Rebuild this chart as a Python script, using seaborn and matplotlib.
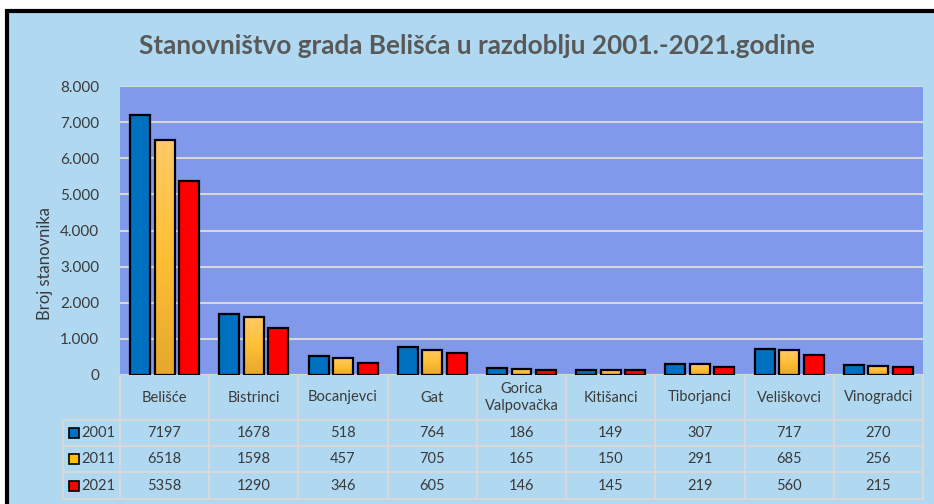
import matplotlib
matplotlib.use("Agg")
import matplotlib.pyplot as plt
import matplotlib.transforms as mtransforms
from matplotlib.patches import Rectangle
import numpy as np
import pandas as pd
import seaborn as sns

# Data
naselja = ["Belišće", "Bistrinci", "Bocanjevci", "Gat", "Gorica\nValpovačka",
           "Kitišanci", "Tiborjanci", "Veliškovci", "Vinogradci"]
godine = ["2001", "2011", "2021"]
stan_2001 = [7197, 1678, 518, 764, 186, 149, 307, 717, 270]
stan_2011 = [6518, 1598, 457, 705, 165, 150, 291, 685, 256]
stan_2021 = [5358, 1290, 346, 605, 146, 145, 219, 560, 215]
y_ticks = [0, 1000, 2000, 3000, 4000, 5000, 6000, 7000, 8000]

boje = ["#0070c0", "#ffc000", "#ff0000"]
bg_chart = "#b0d9f1"
bg_plot = "#8099ea"
txt = "#3a3a3a"
grid_c = "#d8d8d8"

df = pd.DataFrame({
    "naselje": naselja * 3,
    "godina": [g for g in godine for _ in naselja],
    "stanovnici": stan_2001 + stan_2011 + stan_2021,
})

sns.set_theme(style="white")
plt.rcParams["font.family"] = ["Lato", "DejaVu Sans"]

W, H = 934, 504
fig = plt.figure(figsize=(W / 100, H / 100), dpi=100)
fig.patch.set_facecolor("white")

# chart frame with black border on top/left
fig.patches.append(Rectangle((7 / W, -0.1), 1.2, (H - 11) / H + 0.1,
                             transform=fig.transFigure, facecolor=bg_chart,
                             edgecolor="black", linewidth=3, zorder=-5))

x0, x1, y_top, y_base = 120, 923, 86, 375
ax = fig.add_axes([x0 / W, (H - y_base) / H, (x1 - x0) / W, (y_base - y_top) / H])
ax.set_facecolor(bg_plot)

sns.barplot(data=df, x="naselje", y="stanovnici", hue="godina", palette=boje,
            saturation=1, width=0.825, ax=ax, legend=False, zorder=3)

bar_w = 0.224
for ci, cont in enumerate(ax.containers):
    for p in cont.patches:
        c = p.get_x() + p.get_width() / 2
        p.set_x(c - bar_w / 2)
        p.set_width(bar_w)
        p.set_edgecolor("black")
        p.set_linewidth(1.6)
        if ci == 1:
            # light-to-dark yellow gradient
            grad = np.linspace(0, 1, 256).reshape(-1, 1)
            cmap = matplotlib.colors.LinearSegmentedColormap.from_list(
                "y", ["#e6a72e", "#ffbf34", "#ffca66"])
            im = ax.imshow(grad, cmap=cmap, origin="lower", aspect="auto",
                           extent=[p.get_x(), p.get_x() + bar_w, 0, p.get_height()],
                           zorder=2.9)
            im.set_clip_path(p)
            p.set_facecolor("none")

ax.set_xlim(-0.5, len(naselja) - 0.5)
ax.set_ylim(0, 8000)
ax.set_yticks(y_ticks)
ax.set_yticklabels([f"{v:,}".replace(",", ".") for v in y_ticks],
                   fontsize=11, color=txt)
ax.yaxis.grid(True, color=grid_c, linewidth=1.5, zorder=0)
ax.set_axisbelow(True)
ax.set_xticks([])
ax.set_xlabel("")
ax.set_ylabel("")
ax.tick_params(axis="y", length=0, pad=15)
for s in ax.spines.values():
    s.set_visible(False)

fig.text(45 / W, (H - 263) / H, "Broj stanovnika", rotation=90, ha="center",
         va="center", fontsize=12, color=txt)
fig.text(477 / W, (H - 46) / H, "Stanovništvo grada Belišća u razdoblju 2001.-2021.godine",
         ha="center", va="center", fontsize=18.8, fontweight="bold", color="#595959")

# data table below the plot
tr = mtransforms.blended_transform_factory(ax.transData, fig.transFigure)
fy = lambda py: (H - py) / H
rows_y = [375, 420, 446, 472, 499]
n = len(naselja)
unit = (x1 - x0) / n
leg_x = -0.5 - 57 / unit
lk = dict(color=grid_c, linewidth=1.5, transform=tr, clip_on=False)
ax.plot([-0.5, n - 0.5], [fy(420), fy(420)], **lk)
for py in rows_y[1:]:
    ax.plot([leg_x, n - 0.5], [fy(py), fy(py)], **lk)
for i in range(n + 1):
    ax.plot([i - 0.5, i - 0.5], [fy(375), fy(499)], **lk)
ax.plot([leg_x, leg_x], [fy(420), fy(499)], **lk)

for i, name in enumerate(naselja):
    ax.text(i, fy(397.5), name, transform=tr, ha="center", va="center",
            fontsize=10.5, color=txt, linespacing=1.25)
serije = [stan_2001, stan_2011, stan_2021]
for r, (g, vals) in enumerate(zip(godine, serije)):
    yc = (rows_y[r + 1] + rows_y[r + 2]) / 2
    for i, v in enumerate(vals):
        ax.text(i, fy(yc), str(v), transform=tr, ha="center", va="center",
                fontsize=10.5, color=txt)
    ax.add_patch(Rectangle((leg_x + 6 / unit, fy(yc + 5)), 10 / unit, 10 / H,
                           transform=tr, facecolor=boje[r], edgecolor="black",
                           linewidth=1.2, clip_on=False))
    ax.text(leg_x + 18 / unit, fy(yc), g, transform=tr, ha="left", va="center",
            fontsize=10.5, color=txt)

fig.savefig("out.png", dpi=100, facecolor=fig.get_facecolor())
